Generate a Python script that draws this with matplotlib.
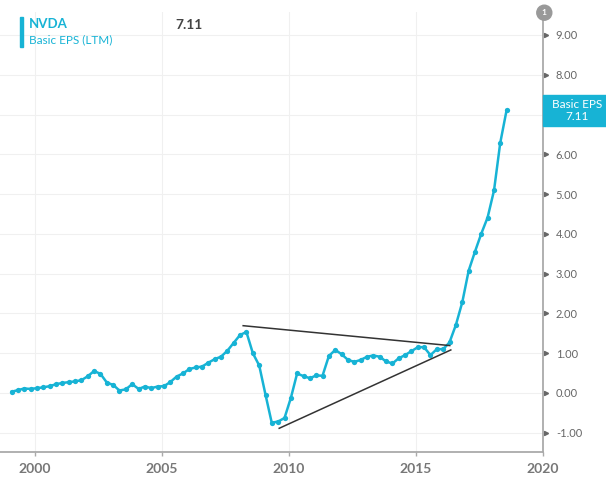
import matplotlib
matplotlib.use("Agg")
import matplotlib.pyplot as plt
import matplotlib.transforms as mtransforms
from matplotlib.patches import Rectangle, Circle
import pandas as pd

plt.rcParams['font.family'] = ['Lato', 'DejaVu Sans']

# ---- data ----
dates = pd.date_range('1999-01-31', periods=79, freq='3ME')
eps = [0.03, 0.07, 0.11, 0.10, 0.12, 0.14, 0.17, 0.22, 0.25, 0.27,
       0.29, 0.32, 0.42, 0.55, 0.48, 0.26, 0.20, 0.06, 0.09, 0.22,
       0.10, 0.16, 0.12, 0.16, 0.17, 0.27, 0.41, 0.49, 0.60, 0.64,
       0.66, 0.76, 0.85, 0.91, 1.06, 1.26, 1.46, 1.53, 1.00, 0.69,
       -0.05, -0.75, -0.72, -0.63, -0.12, 0.49, 0.42, 0.37, 0.44, 0.43,
       0.93, 1.08, 0.97, 0.83, 0.78, 0.83, 0.91, 0.94, 0.91, 0.79,
       0.74, 0.87, 0.95, 1.05, 1.15, 1.15, 0.95, 1.10, 1.10, 1.27,
       1.71, 2.28, 3.07, 3.54, 4.00, 4.41, 5.09, 6.28, 7.11]
upper_trend_x = [2008.20, 2016.34]
upper_trend_y = [1.69, 1.19]
lower_trend_x = [2009.62, 2016.38]
lower_trend_y = [-0.89, 1.08]
yticks = [-1, 0, 1, 2, 3, 4, 5, 6, 7, 8, 9]
xticks = [2000, 2005, 2010, 2015, 2020]
ticker = "NVDA"
series_name = "Basic EPS (LTM)"
last_value = "7.11"

years = [d.year + (d.dayofyear - 1) / 365.25 for d in dates]

TEAL = '#17b3d5'
W, H = 606, 487
fig = plt.figure(figsize=(W / 100, H / 100), dpi=100)
ax_left, ax_right = 0 / W, 543.3 / W
ax_top, ax_bot = 12 / H, 451.7 / H
ax = fig.add_axes([ax_left, 1 - ax_bot, ax_right - ax_left, ax_bot - ax_top])

# y scale: 0 -> 392.9px, 39.77 px/unit
ymin = (392.9 - 451.7) / 39.77
ymax = (392.9 - 12) / 39.77
ax.set_ylim(ymin, ymax)
ax.set_xlim(2000 - 35 / 25.385, 2000 + (543.3 - 35) / 25.385)

for y in yticks:
    ax.axhline(y, color='#f0f0f0', lw=0.8, zorder=0)
for x in xticks[:-1]:
    ax.axvline(x, color='#f0f0f0', lw=0.8, zorder=0)

ax.plot(years, eps, color=TEAL, lw=1.8, marker='o', ms=3.8,
        markeredgewidth=0, zorder=3)
ax.plot(upper_trend_x, upper_trend_y, color='#333333', lw=1.1, zorder=4)
ax.plot(lower_trend_x, lower_trend_y, color='#333333', lw=1.1, zorder=4)

# spines
for s in ['top', 'left']:
    ax.spines[s].set_visible(False)
ax.spines['right'].set_color('#aaaaaa')
ax.spines['right'].set_linewidth(1.3)
ax.spines['bottom'].set_color('#aaaaaa')
ax.spines['bottom'].set_linewidth(1.3)

ax.set_xticks(xticks)
ax.set_xticklabels([str(x) for x in xticks], fontsize=10, fontweight='bold',
                   color='#777777')
ax.tick_params(axis='x', length=3, width=1, color='#aaaaaa', pad=5)
ax.yaxis.tick_right()
ax.set_yticks(yticks)
# the 7.00 label sits behind the value box in the reference
ax.set_yticklabels(["" if y == 7 else f"{y:.2f}" for y in yticks],
                   fontsize=8, color='#666666')
ax.tick_params(axis='y', length=0, pad=9)
ax.tick_params(axis='y', which='both', right=False, left=False)

# tiny triangle tick markers
trans = mtransforms.blended_transform_factory(ax.transAxes, ax.transData)
ax.plot([1.0 + 3.0 / (543.3)] * len(yticks), yticks, linestyle='none',
        marker='>', ms=3, color='#666666', transform=trans, clip_on=False)

# right value box
fig.patches.append(Rectangle((543 / W, 1 - 126 / H), 63 / W, 31 / H,
                             transform=fig.transFigure, color=TEAL, zorder=5))
fig.text(577 / W, 1 - 104 / H, "Basic EPS", color='white', fontsize=8.5,
         ha='center', va='center', zorder=6)
fig.text(577 / W, 1 - 116 / H, last_value, color='white', fontsize=8.5,
         ha='center', va='center', zorder=6)

# circle "1"
circ = Circle((544.3, H - 12.7), 7.5, transform=None, color='#999999',
              zorder=6, clip_on=False)
fig.patches.append(circ)
fig.text(544.3 / W, 1 - 12.7 / H, "1", color='white', fontsize=6,
         fontweight='bold', ha='center', va='center', zorder=7)

# header
fig.patches.append(Rectangle((20 / W, 1 - 47 / H), 3 / W, 30 / H,
                             transform=fig.transFigure, color=TEAL, zorder=5))
fig.text(29 / W, 1 - 24 / H, ticker, color=TEAL, fontsize=9.5,
         fontweight='bold', ha='left', va='center')
fig.text(29 / W, 1 - 40 / H, series_name, color=TEAL, fontsize=8.5,
         ha='left', va='center')
fig.text(175 / W, 1 - 25 / H, last_value, color='#444444', fontsize=10,
         fontweight='bold', ha='left', va='center')

fig.savefig('out.png', dpi=100)
